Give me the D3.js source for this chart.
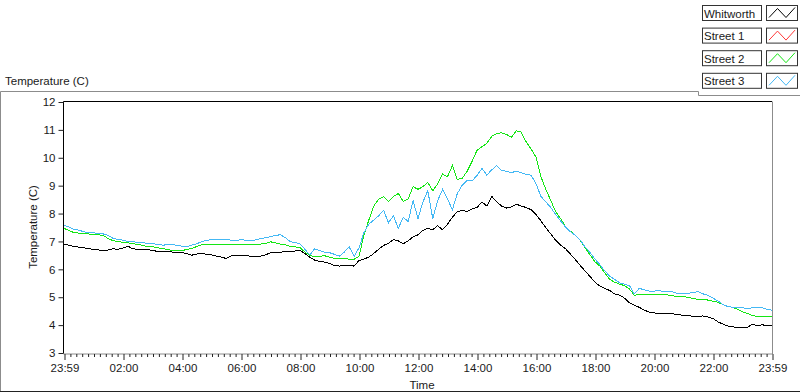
<!DOCTYPE html>
<html><head><meta charset="utf-8">
<script src="https://cdn.jsdelivr.net/npm/d3@7"></script>
<style>
body{margin:0;background:#fff}
svg{display:block}
text{font-family:"Liberation Sans",Arial,sans-serif;font-size:11.5px;fill:#1a1a1a}
</style>
</head><body>
<svg id="c" width="800" height="392"></svg>
<script>
// ---- data (10-minute readings, starting 23:59) ----
const seriesNames = ["Whitworth", "Street 1", "Street 2", "Street 3"];
const seriesColors = ["#000000", "#ff3838", "#14e614", "#44b8f4"];
const stepMinutes = 10;
const xTickHours = [0,2,4,6,8,10,12,14,16,18,20,22,24];
const xTickLabels = ["23:59","02:00","04:00","06:00","08:00","10:00","12:00","14:00","16:00","18:00","20:00","22:00","23:59"];
const yTicks = [3,4,5,6,7,8,9,10,11,12];

const whitworth = [
6.88,6.85,6.80,6.78,6.76,6.72, 6.70,6.68,6.64,6.68,6.72,6.70, 6.75,6.81,6.72,6.70,6.69,6.68,
6.67,6.62,6.61,6.63,6.60,6.59, 6.58,6.55,6.49,6.53,6.56,6.52, 6.50,6.46,6.42,6.37,6.46,6.47,
6.47,6.48,6.45,6.43,6.46,6.50, 6.58,6.60,6.60,6.61,6.62,6.64, 6.66,6.55,6.42,6.31,6.27,6.24,
6.20,6.12,6.10,6.13,6.11,6.10, 6.30,6.35,6.42,6.55,6.70,6.84, 6.92,7.05,7.00,6.90,7.00,7.15,
7.22,7.38,7.45,7.40,7.55,7.40, 7.60,7.85,8.05,8.10,8.05,8.15, 8.20,8.40,8.25,8.60,8.40,8.25,
8.18,8.22,8.32,8.25,8.20,8.12, 7.95,7.72,7.48,7.25,7.02,6.85, 6.72,6.53,6.33,6.12,5.92,5.72,
5.52,5.38,5.30,5.22,5.10,5.06, 4.95,4.78,4.70,4.62,4.52,4.45, 4.42,4.40,4.40,4.40,4.38,4.36,
4.33,4.32,4.30,4.30,4.31,4.27, 4.22,4.10,4.02,3.95,3.92,3.90, 3.90,3.90,4.02,3.95,4.00,3.95,
3.98];
const street1 = [];
const street2 = [
7.45,7.38,7.30,7.28,7.26,7.25, 7.24,7.22,7.20,7.08,7.01,6.98, 6.95,6.93,6.90,6.88,6.84,6.80,
6.79,6.76,6.72,6.70,6.66,6.64, 6.65,6.70,6.73,6.80,6.86,6.88, 6.88,6.88,6.88,6.88,6.89,6.89,
6.89,6.89,6.89,6.89,6.89,6.90, 6.97,6.93,6.89,6.86,6.80,6.79, 6.76,6.60,6.48,6.43,6.45,6.47,
6.42,6.37,6.37,6.36,6.35,6.34, 6.45,7.20,7.75,8.25,8.50,8.58, 8.42,8.60,8.70,8.42,8.50,8.95,
8.85,8.95,9.10,8.80,9.05,9.40, 9.30,9.70,9.20,9.25,9.50,9.85, 10.25,10.38,10.50,10.75,10.85,10.88,
10.82,10.72,10.95,10.90,10.55,10.30, 10.00,9.30,8.85,8.45,8.05,7.80, 7.52,7.35,7.20,7.02,6.75,6.50,
6.25,6.10,5.85,5.62,5.52,5.45, 5.40,5.28,5.05,5.08,5.08,5.08, 5.08,5.08,5.07,5.06,5.03,5.00,
5.00,4.98,4.93,4.91,4.90,4.88, 4.84,4.80,4.72,4.66,4.62,4.55, 4.46,4.40,4.32,4.30,4.30,4.30,
4.30];
const street3 = [
7.56,7.50,7.42,7.39,7.33,7.29, 7.29,7.27,7.25,7.20,7.09,7.05, 7.03,6.98,6.97,6.95,6.93,6.92,
6.90,6.88,6.85,6.86,6.88,6.84, 6.81,6.80,6.85,6.90,6.97,7.02, 7.05,7.04,7.06,7.05,7.03,7.00,
7.05,7.02,7.00,7.04,7.08,7.12, 7.15,7.20,7.22,7.12,6.98,6.94, 6.90,6.70,6.50,6.72,6.65,6.60,
6.58,6.52,6.45,6.60,6.79,6.45, 6.75,7.30,7.60,7.75,7.90,8.10, 7.65,7.90,7.45,7.85,7.70,8.45,
7.80,8.40,8.80,7.80,8.45,8.85, 8.50,8.12,8.70,9.00,9.18,9.15, 9.35,9.60,9.36,9.55,9.70,9.52,
9.50,9.45,9.50,9.45,9.38,9.36, 9.05,8.60,8.40,8.20,7.95,7.72, 7.50,7.33,7.20,7.03,6.78,6.58,
6.35,6.15,5.92,5.74,5.62,5.50, 5.45,5.40,5.10,5.30,5.25,5.20, 5.20,5.22,5.18,5.20,5.16,5.10,
5.10,5.12,5.16,5.18,5.10,5.05, 4.95,4.85,4.72,4.65,4.62,4.60, 4.60,4.58,4.60,4.62,4.60,4.55,
4.52];
const seriesValues = [whitworth, street1, street2, street3];

// ---- layout ----
const svg = d3.select("#c");
const x = d3.scaleLinear().domain([0, 24]).range([64, 772]);
const y = d3.scaleLinear().domain([3, 12]).range([352.5, 101.5]);

// outer frame
const frame = svg.append("g").attr("fill","none");
frame.append("path").attr("d","M0.5,392 V91.5 H698.5 V95.5 H800").attr("stroke","#8c8c8c");
frame.append("path").attr("d","M0,391.5 H800").attr("stroke","#222");

// top label
svg.append("text").attr("x",5).attr("y",85).text("Temperature (C)");

// plot frame
frame.append("path").attr("d",`M${x(0)-0.5},${y(3)+1} V${y(12)} H${x(24)}`).attr("stroke","#000");
frame.append("path").attr("d",`M${x(24)+0.5},${y(12)} V${y(3)+1.5} H${x(0)-0.5}`).attr("stroke","#8c8c8c");

// series lines
const line = d3.line()
  .x((d,i) => x(i*stepMinutes/60))
  .y(d => y(d));
const plot = svg.append("g");
seriesValues.forEach((vals, k) => {
  if (!vals.length) return;
  plot.append("path").datum(vals)
    .attr("d", line).attr("fill","none")
    .attr("stroke", seriesColors[k]).attr("stroke-width",1)
    .attr("shape-rendering","crispEdges");
});

// x axis
const minorHours = d3.range(0, 24.0001, 0.2).filter(h => Math.abs(h/2 - Math.round(h/2)) > 1e-6);
const xMinor = svg.append("g").attr("transform",`translate(0.5,${y(3)+1.5})`)
  .call(d3.axisBottom(x).tickValues(minorHours).tickSize(3).tickFormat(""));
const xMajor = svg.append("g").attr("transform",`translate(0.5,${y(3)+1.5})`)
  .call(d3.axisBottom(x).tickValues(xTickHours).tickSize(6).tickPadding(4)
    .tickFormat((d,i) => xTickLabels[i]));
[xMinor, xMajor].forEach(g => {
  g.select(".domain").remove();
  g.selectAll("line").attr("stroke","#222");
  g.selectAll("text").attr("font-family",null).attr("font-size",null).attr("fill","#1a1a1a");
});

// y axis
const yAx = svg.append("g").attr("transform",`translate(${x(0)-0.5},0.5)`)
  .call(d3.axisLeft(y).tickValues(yTicks).tickSize(5).tickPadding(3));
yAx.select(".domain").remove();
yAx.selectAll("line").attr("stroke","#222");
yAx.selectAll("text").attr("font-family",null).attr("font-size",null).attr("fill","#1a1a1a");

// axis titles
svg.append("text").attr("x", 422).attr("y", 389).attr("text-anchor","middle").text("Time");
svg.append("text").attr("transform",`translate(37,${(y(3)+y(12))/2}) rotate(-90)`)
  .attr("text-anchor","middle").attr("fill","#2a0a0a").text("Temperature (C)");

// legend
const leg = svg.append("g");
seriesNames.forEach((name, k) => {
  const top = 5.5 + k*22.6;
  const g = leg.append("g").attr("transform",`translate(0,${top})`);
  g.append("rect").attr("x",702.5).attr("y",0).attr("width",59).attr("height",15)
    .attr("fill","#fff").attr("stroke","#333");
  g.append("text").attr("x",704).attr("y",12).text(name);
  g.append("rect").attr("x",766.5).attr("y",0).attr("width",31).attr("height",15)
    .attr("fill","#fff").attr("stroke","#333");
  g.append("path").attr("d","M769,12 L777.5,3 L786,12 L795,2")
    .attr("fill","none").attr("stroke",seriesColors[k]).attr("stroke-width",1);
});
</script>
</body></html>
